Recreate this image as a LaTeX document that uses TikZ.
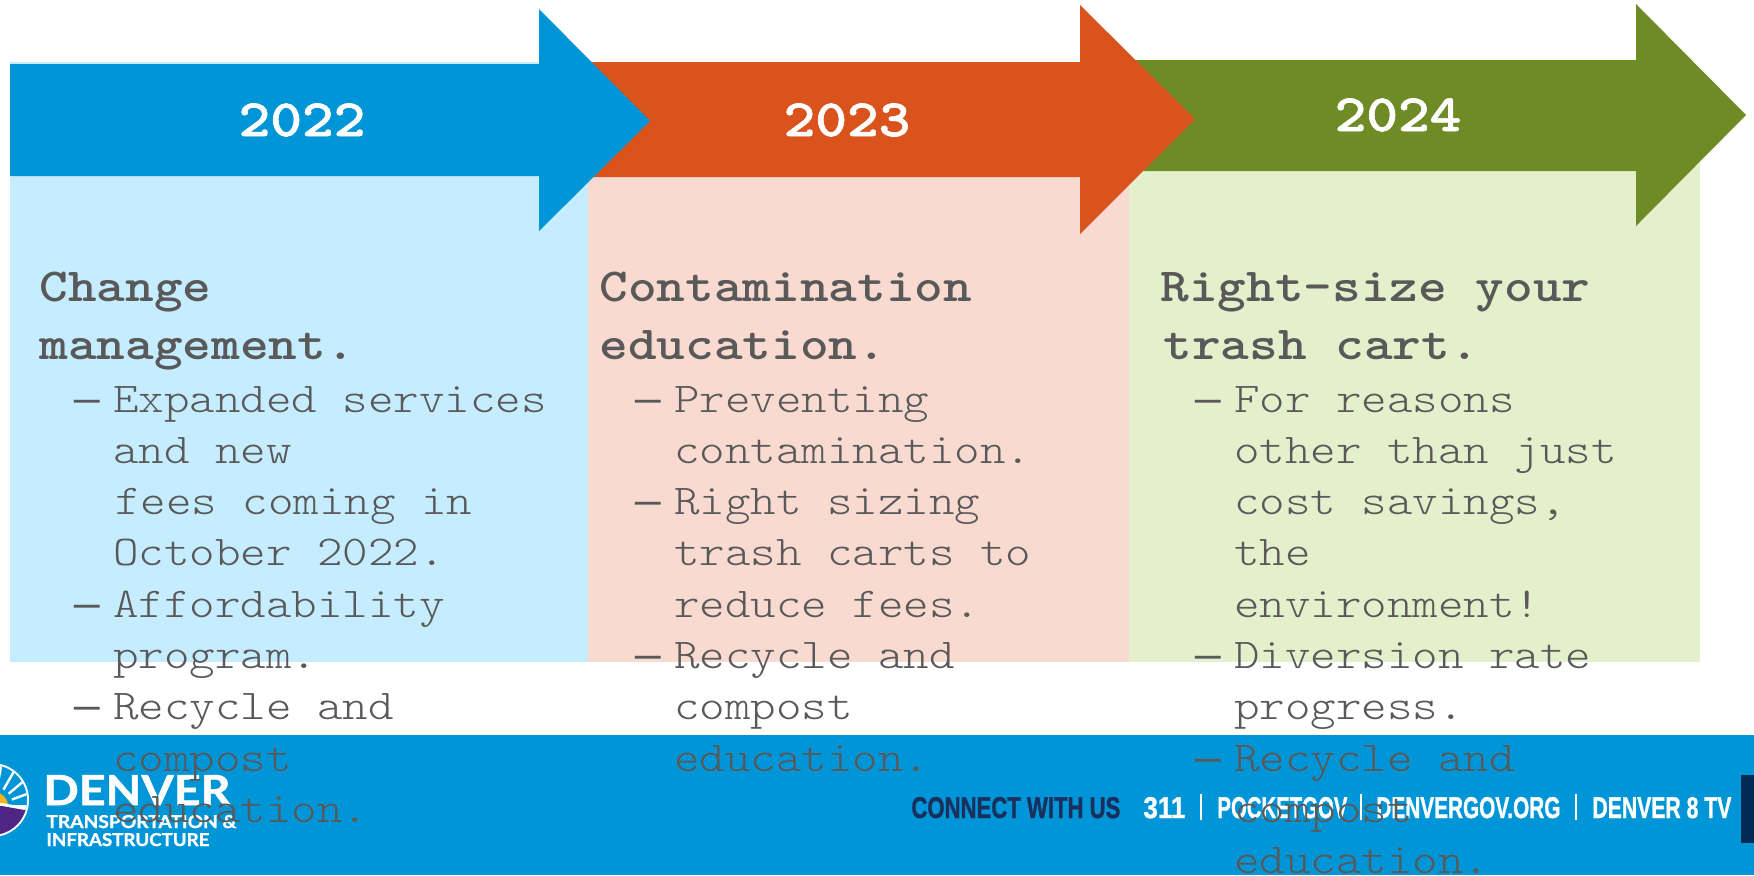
\documentclass[tikz,border=0pt]{standalone}
\usepackage{fontspec}
\setmainfont{Liberation Sans}
\newfontfamily\bodyf[FakeStretch=1.143]{Latin Modern Mono Light}
\newfontfamily\headf[FakeStretch=1.152]{Latin Modern Mono Light}
\newfontfamily\yearf[FakeStretch=1.152,BoldFeatures={FakeBold=1.2}]{Latin Modern Mono Light}
\newfontfamily\dashf{Liberation Mono}
\newfontfamily\logof[BoldFeatures={FakeBold=1.2}]{Lato}
\newfontfamily\footf[BoldFeatures={FakeBold=1.2}]{Liberation Sans}
\definecolor{dblue}{HTML}{0095D6}
\definecolor{dorange}{HTML}{DA531D}
\definecolor{dgreen}{HTML}{6E8B25}
\definecolor{lblue}{HTML}{C5ECFF}
\definecolor{lorange}{HTML}{F8DAD1}
\definecolor{lgreen}{HTML}{E4F0CC}
\definecolor{gtext}{HTML}{595959}
\definecolor{navy}{HTML}{1B2F5E}
\definecolor{dnavy}{HTML}{002B55}
\definecolor{dpurple}{HTML}{4F2683}
\definecolor{dsun}{HTML}{FDB515}
\tikzset{
  x=0.5pt,y=-0.5pt,
  linebody/.style={anchor=base west,inner sep=0pt,text=gtext,font=\bodyf\fontsize{21.25}{25}\selectfont},
  linedash/.style={anchor=base west,inner sep=0pt,text=gtext,font=\dashf\fontsize{21.25}{25}\selectfont},
  linehead/.style={anchor=base west,inner sep=0pt,text=gtext,font=\headf\bfseries\fontsize{23.7}{28}\selectfont},
  yearlabel/.style={anchor=base,inner sep=0pt,text=white,font=\yearf\bfseries\fontsize{26.2}{30}\selectfont},
  foot/.style={anchor=base west,inner sep=0pt,font=\footf\bfseries},
  logotext/.style={anchor=base west,inner sep=0pt,text=white,font=\logof\bfseries}
}
\newcommand{\footfit}[3]{\resizebox{#1\dimexpr0.5pt\relax}{#2\dimexpr0.5pt\relax}{#3}}
\begin{document}
\begin{tikzpicture}
\useasboundingbox (0,0) rectangle (1754,875);
\fill[white] (0,0) rectangle (1754,875);
% pale panels
\fill[lblue] (10,62) rectangle (588,662);
\fill[lorange] (588,177) rectangle (1129,662);
\fill[lgreen] (1129,150) rectangle (1700,662);
% arrows
\fill[dgreen] (1129,60) -- (1636,60) -- (1636,4) -- (1746,115) -- (1636,226) -- (1636,171) -- (1129,171) -- cycle;
\fill[dorange] (588,62) -- (1080,62) -- (1080,5) -- (1195,119) -- (1080,234) -- (1080,177) -- (588,177) -- cycle;
\fill[dblue] (10,64) -- (539,64) -- (539,9) -- (650,121) -- (539,231) -- (539,176) -- (10,176) -- cycle;
\node[yearlabel] (y22) at (302,136) {2022};
\node[yearlabel] (y23) at (847,136) {2023};
\node[yearlabel] (y24) at (1398,131) {2024};
% footer
\fill[dblue] (0,735) rectangle (1754,875);
\fill[dnavy] (1741,775) rectangle (1754,843);
% logo
\begin{scope}
\clip (0,735) rectangle (60,875);
\fill[white] (-8,800) circle (37);
\begin{scope}
\clip (-8,800) circle (35);
\fill[dblue] (-45,760) rectangle (30,840);
\foreach \a in {-80,-60,-40,-20,0} {\draw[white,line width=1.2pt] (-6,806) ++(\a:19) -- ++(\a:22);}
\fill[dsun] (-6,806) circle (14);
\fill[white] (-45,804) -- (2,803) -- (30,808) -- (30,840) -- (-45,840) -- cycle;
\fill[dpurple] (-45,807) -- (2,806) -- (30,811) -- (30,840) -- (-45,840) -- cycle;
\end{scope}
\end{scope}
\node[logotext] (ldenver) at (43,805) {\footfit{187}{30}{DENVER}};
\node[logotext] (ltrans) at (46,828) {\footfit{190}{13}{TRANSPORTATION \&}};
\node[logotext] (linfra) at (46,846) {\footfit{163}{13}{INFRASTRUCTURE}};
\node[foot,text=navy] (fconnect) at (911,818) {\footfit{209}{21}{CONNECT WITH US}};
\node[foot,text=white] (f311) at (1143,818) {\footfit{42}{21}{311}};
\fill[white] (1200,794) rectangle (1201.5,820);
\node[foot,text=white] (fpocket) at (1217,818) {\footfit{130}{21}{POCKETGOV}};
\fill[white] (1360,794) rectangle (1361.5,820);
\node[foot,text=white] (fdenver) at (1376,818) {\footfit{184}{21}{DENVERGOV.ORG}};
\fill[white] (1575,794) rectangle (1576.5,820);
\node[foot,text=white] (ftv) at (1592,818) {\footfit{139}{21}{DENVER 8 TV}};
% column 1
\node[linehead] (a0) at (39,301) {Change};
\node[linehead] (a1) at (39,359) {management.};
\node[linedash] (ad1) at (74,412) {—};
\node[linebody] (a2) at (113,412) {Expanded services};
\node[linebody] (a3) at (113,463) {and new};
\node[linebody] (a4) at (115,514) {fees coming in};
\node[linebody] (a5) at (113,565) {October 2022.};
\node[linedash] (ad2) at (74,617) {—};
\node[linebody] (a6) at (113,617) {Affordability};
\node[linebody] (a7) at (113,668) {program.};
\node[linedash] (ad3) at (74,719) {—};
\node[linebody] (a8) at (113,719) {Recycle and};
\node[linebody] (a9) at (113,771) {compost};
\node[linebody] (a10) at (113,822) {education.};
% column 2
\node[linehead] (b0) at (599,301) {Contamination};
\node[linehead] (b1) at (599,359) {education.};
\node[linedash] (bd1) at (635,412) {—};
\node[linebody] (b2) at (674,412) {Preventing};
\node[linebody] (b3) at (674,463) {contamination.};
\node[linedash] (bd2) at (635,514) {—};
\node[linebody] (b4) at (674,514) {Right sizing};
\node[linebody] (b5) at (674,565) {trash carts to};
\node[linebody] (b6) at (674,617) {reduce fees.};
\node[linedash] (bd3) at (635,668) {—};
\node[linebody] (b7) at (674,668) {Recycle and};
\node[linebody] (b8) at (674,719) {compost};
\node[linebody] (b9) at (674,771) {education.};
% column 3
\node[linehead] (c0) at (1160,301) {Right-size your};
\node[linehead] (c1) at (1163,359) {trash cart.};
\node[linedash] (cd1) at (1195,412) {—};
\node[linebody] (c2) at (1234,412) {For reasons};
\node[linebody] (c3) at (1234,463) {other than just};
\node[linebody] (c4) at (1234,514) {cost savings,};
\node[linebody] (c5) at (1234,565) {the};
\node[linebody] (c6) at (1234,617) {environment!};
\node[linedash] (cd2) at (1195,668) {—};
\node[linebody] (c7) at (1234,668) {Diversion rate};
\node[linebody] (c8) at (1234,719) {progress.};
\node[linedash] (cd3) at (1195,771) {—};
\node[linebody] (c9) at (1234,771) {Recycle and};
\node[linebody] (c10) at (1234,822) {compost};
\node[linebody] (c11) at (1234,873) {education.};
\end{tikzpicture}
\end{document}
